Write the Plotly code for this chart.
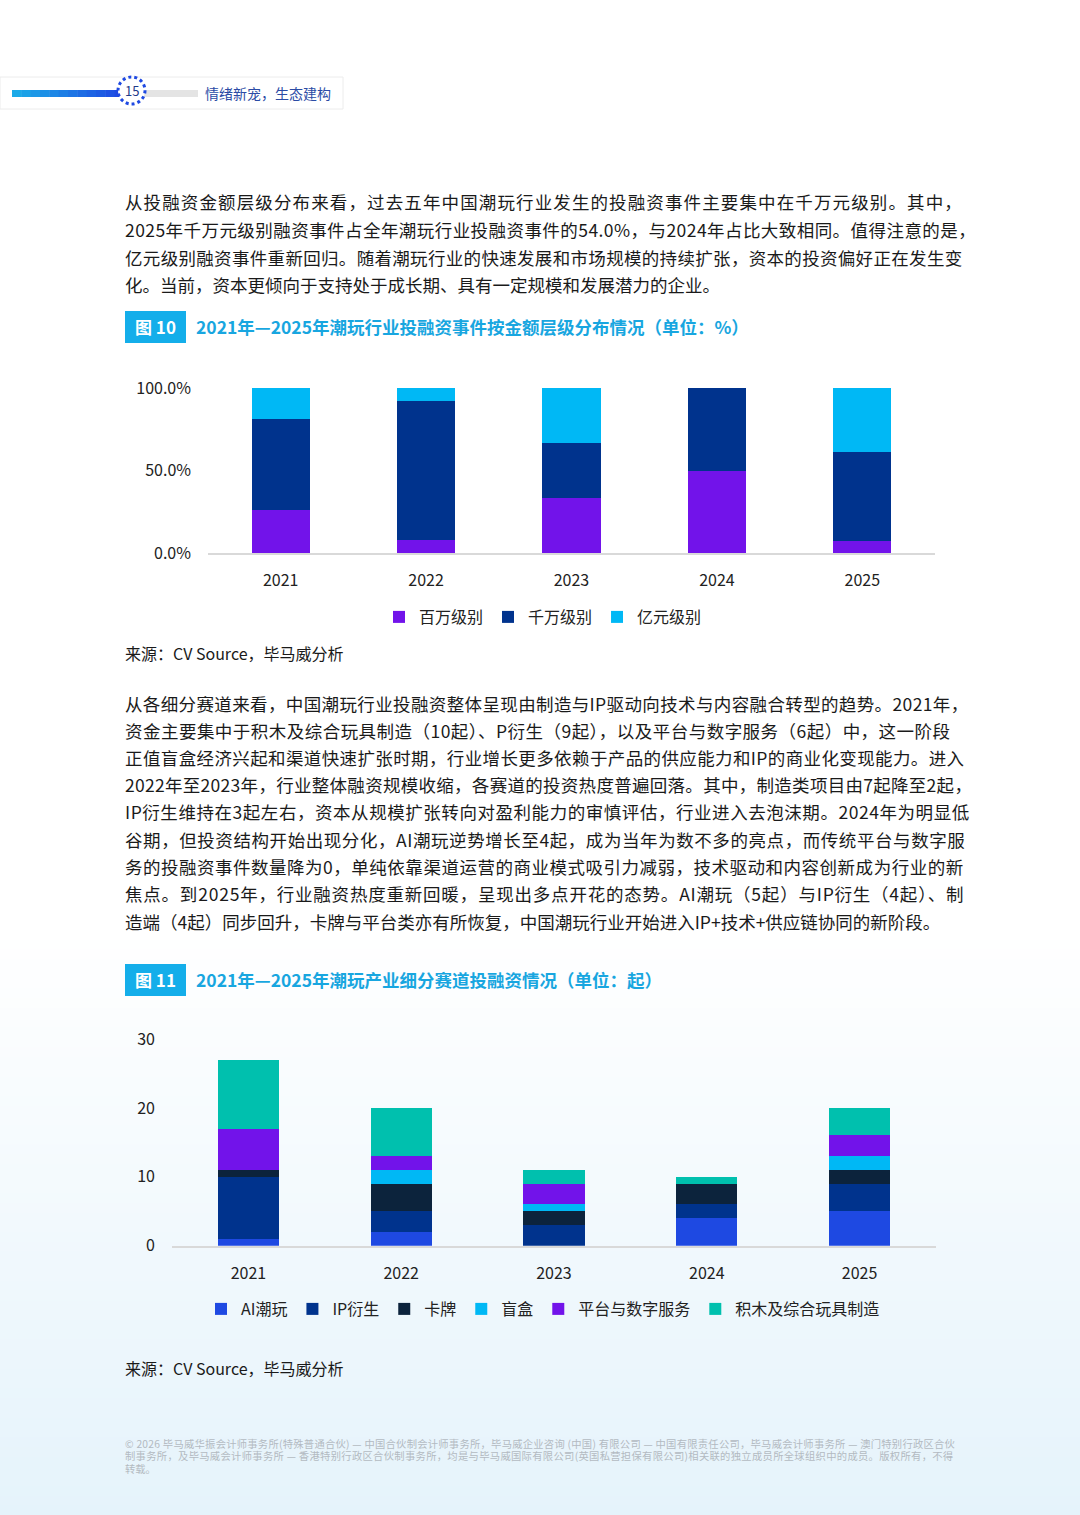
import plotly.graph_objects as go

W, H = 1080, 1515
FONT = "Noto Sans CJK SC"

# ---------------- data ----------------
years = ["2021", "2022", "2023", "2024", "2025"]

tier_names = ["百万级别", "千万级别", "亿元级别"]
tier_million = [25.9, 7.7, 33.3, 50.0, 7.1]
tier_ten_million = [55.6, 84.6, 33.4, 50.0, 54.0]
tier_hundred_million = [18.5, 7.7, 33.3, 0.0, 38.9]
pct_ticks = [0, 50, 100]
pct_tick_labels = ["0.0%", "50.0%", "100.0%"]

seg_names = ["AI潮玩", "IP衍生", "卡牌", "盲盒", "平台与数字服务", "积木及综合玩具制造"]
seg_ai = [1, 2, 0, 4, 5]
seg_ip = [9, 3, 3, 2, 4]
seg_card = [1, 4, 2, 3, 2]
seg_blind = [0, 2, 1, 0, 2]
seg_platform = [6, 2, 3, 0, 3]
seg_blocks = [10, 7, 2, 1, 4]
count_ticks = [0, 10, 20, 30]

# ---------------- styles ----------------
tier_colors = ["#7213EA", "#00338D", "#00B8F5"]
seg_colors = ["#1E49E2", "#00338D", "#0C233C", "#00B8F5", "#7213EA", "#00C0AE"]


def px(x):
    return x / W


def py(y):
    return 1 - y / H


fig = go.Figure()

for name, vals, col in zip(tier_names,
                           [tier_million, tier_ten_million, tier_hundred_million],
                           tier_colors):
    fig.add_trace(go.Bar(x=years, y=vals, name=name, marker=dict(color=col, line=dict(width=0)),
                         xaxis="x", yaxis="y", legend="legend"))

for name, vals, col in zip(seg_names,
                           [seg_ai, seg_ip, seg_card, seg_blind, seg_platform, seg_blocks],
                           seg_colors):
    fig.add_trace(go.Bar(x=years, y=vals, name=name, marker=dict(color=col, line=dict(width=0)),
                         xaxis="x2", yaxis="y2", legend="legend2"))

# ---------------- background shapes ----------------
shapes = []
n = 60
y_start, y_end = 930, 1515
c0 = (255, 255, 255)
c1 = (229, 243, 251)
for i in range(n):
    t = (i + 0.5) / n
    c = tuple(int(round(c0[k] + (c1[k] - c0[k]) * t)) for k in range(3))
    ya = y_start + (y_end - y_start) * i / n
    yb = y_start + (y_end - y_start) * (i + 1) / n + 1
    shapes.append(dict(type="rect", xref="paper", yref="paper", x0=0, x1=1,
                       y0=max(py(yb), 0), y1=py(ya), fillcolor="rgb(%d,%d,%d)" % c,
                       line=dict(width=0), layer="below"))

# header box
shapes.append(dict(type="rect", xref="paper", yref="paper", x0=0, x1=px(343),
                   y0=py(109), y1=py(77), fillcolor="white",
                   line=dict(color="#ececec", width=1), layer="below"))
m = 12
g0 = (27, 170, 232)
g1 = (30, 73, 226)
for i in range(m):
    t = i / (m - 1)
    c = tuple(int(round(g0[k] + (g1[k] - g0[k]) * t)) for k in range(3))
    xa = 12 + (124 - 12) * i / m
    xb = 12 + (124 - 12) * (i + 1) / m + 0.5
    shapes.append(dict(type="rect", xref="paper", yref="paper", x0=px(xa), x1=px(xb),
                       y0=py(97), y1=py(90), fillcolor="rgb(%d,%d,%d)" % c,
                       line=dict(width=0), layer="below"))
shapes.append(dict(type="rect", xref="paper", yref="paper", x0=px(140), x1=px(198),
                   y0=py(97), y1=py(90), fillcolor="#e4e4e4", line=dict(width=0), layer="below"))
shapes.append(dict(type="circle", xref="paper", yref="paper", x0=px(118), x1=px(145),
                   y0=py(104), y1=py(77), fillcolor="white",
                   line=dict(color="#1E49E2", width=3, dash="dot"), layer="below"))

for ytop in (311, 964):
    shapes.append(dict(type="rect", xref="paper", yref="paper", x0=px(125), x1=px(186),
                       y0=py(ytop + 32), y1=py(ytop), fillcolor="#14AEEA",
                       line=dict(width=0), layer="below"))

# ---------------- text ----------------
ann = []

LATIN_W = {"I": 0.249, "P": 0.55, "A": 0.544, "C": 0.57, "V": 0.52, "S": 0.53, "o": 0.53,
           "u": 0.54, "r": 0.35, "c": 0.45, "e": 0.49, "%": 0.81, ".": 0.245, "+": 0.497,
           " ": 0.224, "(": 0.3, ")": 0.3, "©": 0.75}


def est_em(s):
    w = 0.0
    for ch in s:
        if ord(ch) >= 0x2000:
            w += 1.0
        elif ch.isdigit():
            w += 0.497
        else:
            w += LATIN_W.get(ch, 0.55)
    return w


def justify(s, size, target):
    nat = est_em(s) * size
    ls = (target - nat) / max(len(s) - 1, 1)
    ls = max(min(ls, 3.0), -0.5)
    return '<span style="letter-spacing:%.2fpx">%s</span>' % (ls, s)


def text(x, y, s, size=17.5, color="#1a1a1a", anchor="left", bold=False):
    if bold:
        s = "<b>" + s + "</b>"
    ann.append(dict(x=px(x), y=py(y), xref="paper", yref="paper", text=s, showarrow=False,
                    xanchor=anchor, yanchor="middle", align=anchor, borderpad=0,
                    font=dict(family=FONT, size=size, color=color)))


text(131.5, 90, "15", size=13, color="#1E3A8A", anchor="center")
text(204, 93, "情绪新宠，生态建构", size=14, color="#2B4BA5")

BODY = 17.5
p1 = [
    "从投融资金额层级分布来看，过去五年中国潮玩行业发生的投融资事件主要集中在千万元级别。其中，",
    "2025年千万元级别融资事件占全年潮玩行业投融资事件的54.0%，与2024年占比大致相同。值得注意的是，",
    "亿元级别融资事件重新回归。随着潮玩行业的快速发展和市场规模的持续扩张，资本的投资偏好正在发生变",
    "化。当前，资本更倾向于支持处于成长期、具有一定规模和发展潜力的企业。",
]
for i, line in enumerate(p1):
    s = justify(line, BODY, 837) if i < len(p1) - 1 else line
    text(124, 202 + i * 27.6, s, size=BODY)

text(155.5, 327, "图 10", size=17, color="white", anchor="center", bold=True)
text(195, 327, "2021年—2025年潮玩行业投融资事件按金额层级分布情况（单位：%）", size=17.5,
     color="#18A6E0", bold=True)

text(124, 653, "来源：CV Source，毕马威分析", size=16, color="#1a1a1a")

p2 = [
    "从各细分赛道来看，中国潮玩行业投融资整体呈现由制造与IP驱动向技术与内容融合转型的趋势。2021年，",
    "资金主要集中于积木及综合玩具制造（10起）、P衍生（9起），以及平台与数字服务（6起）中，这一阶段",
    "正值盲盒经济兴起和渠道快速扩张时期，行业增长更多依赖于产品的供应能力和IP的商业化变现能力。进入",
    "2022年至2023年，行业整体融资规模收缩，各赛道的投资热度普遍回落。其中，制造类项目由7起降至2起，",
    "IP衍生维持在3起左右，资本从规模扩张转向对盈利能力的审慎评估，行业进入去泡沫期。2024年为明显低",
    "谷期，但投资结构开始出现分化，AI潮玩逆势增长至4起，成为当年为数不多的亮点，而传统平台与数字服",
    "务的投融资事件数量降为0，单纯依靠渠道运营的商业模式吸引力减弱，技术驱动和内容创新成为行业的新",
    "焦点。到2025年，行业融资热度重新回暖，呈现出多点开花的态势。AI潮玩（5起）与IP衍生（4起）、制",
    "造端（4起）同步回升，卡牌与平台类亦有所恢复，中国潮玩行业开始进入IP+技术+供应链协同的新阶段。",
]
for i, line in enumerate(p2):
    s = justify(line, BODY, 837) if i < len(p2) - 1 else line
    text(124, 703 + i * 27.25, s, size=BODY)

text(155.5, 980, "图 11", size=17, color="white", anchor="center", bold=True)
text(195, 980, "2021年—2025年潮玩产业细分赛道投融资情况（单位：起）", size=17.5,
     color="#18A6E0", bold=True)

text(124, 1368, "来源：CV Source，毕马威分析", size=16, color="#1a1a1a")

FOOT = 10.3
footer = [
    "© 2026 毕马威华振会计师事务所(特殊普通合伙) — 中国合伙制会计师事务所，毕马威企业咨询 (中国) 有限公司 — 中国有限责任公司，毕马威会计师事务所 — 澳门特别行政区合伙",
    "制事务所，及毕马威会计师事务所 — 香港特别行政区合伙制事务所，均是与毕马威国际有限公司(英国私营担保有限公司)相关联的独立成员所全球组织中的成员。版权所有，不得",
    "转载。",
]
for i, line in enumerate(footer):
    s = justify(line, FOOT, 829) if i < len(footer) - 1 else line
    text(124, 1443 + i * 12.8, s, size=FOOT, color="#b3bac1")

# ---------------- layout ----------------
axis_font = dict(family=FONT, size=16, color="#222222")
fig.update_layout(
    width=W, height=H,
    margin=dict(l=0, r=0, t=0, b=0, pad=0, autoexpand=False),
    paper_bgcolor="white",
    plot_bgcolor="rgba(0,0,0,0)",
    barmode="stack",
    bargap=0.6,
    font=dict(family=FONT, color="#222222"),
    showlegend=True,
    shapes=shapes,
    annotations=ann,
    xaxis=dict(domain=[px(208), px(935)], anchor="y", showline=True, linecolor="#d9d9d9",
               linewidth=1.5, showgrid=False, ticks="", tickfont=axis_font,
               ticklabelstandoff=12, fixedrange=True, automargin=False),
    yaxis=dict(domain=[py(553), py(388)], anchor="x", range=[0, 100], tickvals=pct_ticks,
               ticktext=pct_tick_labels, showgrid=False, zeroline=False, showline=False,
               ticks="", tickfont=axis_font, ticklabelstandoff=16, fixedrange=True,
               automargin=False),
    xaxis2=dict(domain=[px(172), px(936)], anchor="y2", showline=True, linecolor="#d9d9d9",
                linewidth=1.5, showgrid=False, ticks="", tickfont=axis_font,
                ticklabelstandoff=12, fixedrange=True, automargin=False),
    yaxis2=dict(domain=[py(1245.7), py(1039)], anchor="x2", range=[0, 30], tickvals=count_ticks,
                showgrid=False, zeroline=False, showline=False, ticks="", tickfont=axis_font,
                ticklabelstandoff=16, fixedrange=True, automargin=False),
    legend=dict(orientation="h", x=px(543), y=py(617), xanchor="center", yanchor="middle",
                font=dict(family=FONT, size=16, color="#222222"), itemwidth=30,
                bgcolor="rgba(0,0,0,0)", traceorder="normal", itemclick=False,
                itemdoubleclick=False),
    legend2=dict(orientation="h", x=px(543), y=py(1309), xanchor="center", yanchor="middle",
                 font=dict(family=FONT, size=16, color="#222222"), itemwidth=30,
                 bgcolor="rgba(0,0,0,0)", traceorder="normal", itemclick=False,
                 itemdoubleclick=False),
)

fig.write_html("out.html",
               config={"displayModeBar": False},
               post_script="document.body.style.margin='0';document.body.style.overflow='hidden';")
